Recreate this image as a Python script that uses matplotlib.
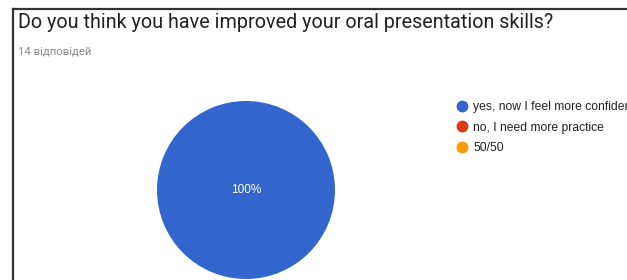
import matplotlib
matplotlib.use('Agg')
import matplotlib.pyplot as plt
from matplotlib.lines import Line2D

# 설문 데이터
labels = ['yes, now I feel more confident', 'no, I need more practice', '50/50']
counts = [14, 0, 0]
colors = ['#3366CC', '#DC3912', '#FF9900']
title = 'Do you think you have improved your oral presentation skills?'
subtitle = '14 відповідей'

W, H = 627, 280
fig = plt.figure(figsize=(W / 100, H / 100), dpi=100)
fig.patch.set_facecolor('white')

# 프레임 (왼쪽, 위쪽 선)
fig.add_artist(Line2D([13 / W, 13 / W], [0, 1 - 9 / H], color='#333333', lw=1.6))
fig.add_artist(Line2D([13 / W, 1], [1 - 9 / H, 1 - 9 / H], color='#333333', lw=1.6))

fig.text(18 / W, 1 - 22 / H, title, fontsize=14.2, family='Roboto', color='#202124', va='center')
fig.text(18 / W, 1 - 51 / H, subtitle, fontsize=8.2, family='Roboto', color='#8a8a8a', va='center')

# 파이 차트
cx, cy, r = 246, 190, 89
ax = fig.add_axes([(cx - r) / W, (H - cy - r) / H, 2 * r / W, 2 * r / H])
wedges, _, autotexts = ax.pie(
    counts, colors=colors, startangle=90, counterclock=False,
    autopct=lambda p: f'{p:.0f}%' if p > 0 else '',
    pctdistance=0.0, textprops=dict(color='white', fontsize=8.5, family='Liberation Sans'))
ax.set_xlim(-1, 1); ax.set_ylim(-1, 1)
ax.set_axis_off()

# 범례 (참조 그림처럼 오른쪽 끝에서 잘림)
handles = [Line2D([], [], marker='o', ls='', markersize=7.5, markerfacecolor=c, markeredgecolor=c)
           for c in colors]
fig.legend(handles, labels, loc='upper left', bbox_to_anchor=(455 / W, 1 - 101 / H),
           frameon=False, handletextpad=0.3, labelspacing=0.72,
           prop=dict(family='Liberation Sans', size=8.7), borderaxespad=0, borderpad=0,
           handlelength=1.2, labelcolor='#222222')

plt.savefig('out.png', dpi=100)
